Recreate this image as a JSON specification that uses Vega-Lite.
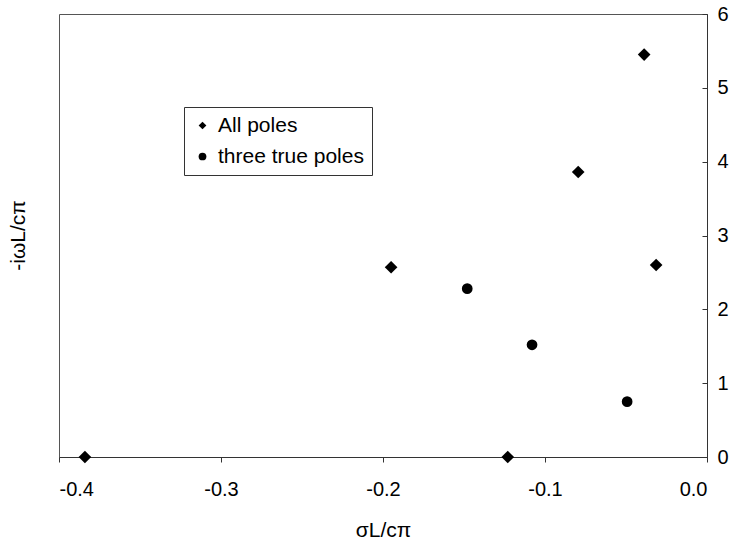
{
  "$schema": "https://vega.github.io/schema/vega-lite/v6.json",
  "width": 648,
  "height": 443,
  "autosize": "none",
  "padding": {"left": 59, "top": 14, "right": 31, "bottom": 89},
  "background": "white",
  "config": {
    "font": "Liberation Sans",
    "view": {"stroke": "#555", "strokeWidth": 1},
    "axis": {"grid": false, "labelFont": "Liberation Sans", "titleFont": "Liberation Sans", "labelColor": "black", "titleColor": "black", "domainColor": "#333", "tickColor": "#333", "labelFontSize": 20, "titleFontSize": 21, "titleFontWeight": "normal"}
  },
  "data": {
    "values": [
      {"sigma": -0.384, "omega": 0.0, "series": "All poles"},
      {"sigma": -0.123, "omega": 0.0, "series": "All poles"},
      {"sigma": -0.195, "omega": 2.57, "series": "All poles"},
      {"sigma": -0.0795, "omega": 3.86, "series": "All poles"},
      {"sigma": -0.0388, "omega": 5.45, "series": "All poles"},
      {"sigma": -0.0314, "omega": 2.60, "series": "All poles"},
      {"sigma": -0.148, "omega": 2.28, "series": "three true poles"},
      {"sigma": -0.108, "omega": 1.52, "series": "three true poles"},
      {"sigma": -0.0493, "omega": 0.75, "series": "three true poles"}
    ]
  },
  "mark": {"type": "point", "filled": true, "color": "black", "opacity": 1},
  "encoding": {
    "x": {
      "field": "sigma", "type": "quantitative", "title": "σL/cπ",
      "scale": {"domain": [-0.4, 0], "nice": false, "zero": false},
      "axis": {"values": [-0.4, -0.3, -0.2, -0.1, 0.0], "format": ".1f", "labelExpr": "replace(datum.label, '\u2212', '-')", "tickSize": 5, "labelPadding": 17, "titlePadding": 20}
    },
    "y": {
      "field": "omega", "type": "quantitative", "title": "-iωL/cπ",
      "scale": {"domain": [0, 6], "nice": false},
      "axis": {"orient": "right", "values": [0, 1, 2, 3, 4, 5, 6], "tickSize": -5, "labelPadding": 15, "titleAngle": 270, "titleX": -689, "titleY": 221, "titleAlign": "center", "titleBaseline": "middle"}
    },
    "shape": {
      "field": "series", "type": "nominal",
      "scale": {"domain": ["All poles", "three true poles"], "range": ["diamond", "circle"]},
      "legend": {"title": null, "orient": "none", "legendX": 125, "legendY": 93, "strokeColor": "#333", "fillColor": "white", "padding": 8, "labelFontSize": 21, "labelFont": "Liberation Sans", "labelColor": "black", "symbolSize": 60, "symbolFillColor": "black", "symbolStrokeColor": "black", "symbolType": "circle", "rowPadding": 9, "labelOffset": 5}
    },
    "size": {"condition": {"test": "datum.series === 'All poles'", "value": 160}, "value": 115}
  }
}
